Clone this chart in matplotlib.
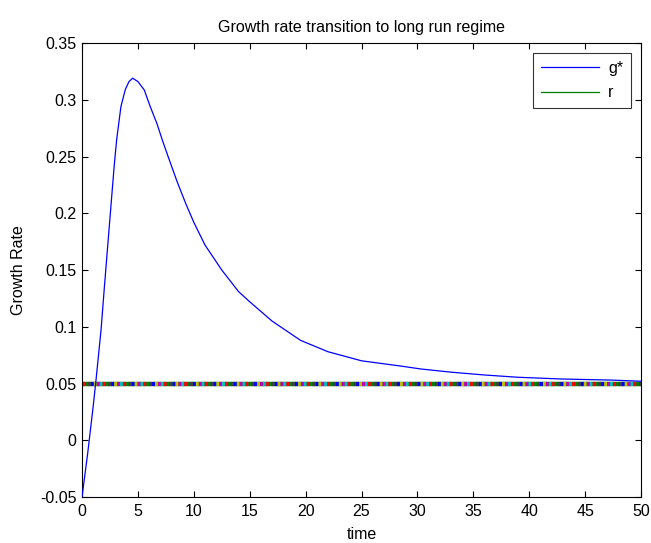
import matplotlib
matplotlib.use("Agg")
import matplotlib.pyplot as plt

plt.rcParams['font.family'] = ['Liberation Sans', 'DejaVu Sans']

# Transition path of the growth rate g* towards the long-run rate r
time = [0.0, 0.5, 1.0, 1.25, 1.7, 2.0, 2.5, 2.88, 3.1, 3.48, 3.87, 4.2, 4.53,
        5.0, 5.57, 6.1, 6.7, 7.2, 7.7, 8.5, 9.3, 10.0, 11.0, 12.5, 14.0, 15.0,
        17.0, 19.55, 22.0, 25.0, 28.5, 30.3, 33.0, 36.0, 39.0, 42.8, 47.4, 50.0]
g_star = [-0.05, -0.012, 0.030, 0.053, 0.097, 0.135, 0.196, 0.242, 0.265, 0.294,
          0.309, 0.316, 0.319, 0.316, 0.3086, 0.294, 0.279, 0.264, 0.25, 0.228,
          0.208, 0.192, 0.172, 0.150, 0.131, 0.122, 0.105, 0.088, 0.078, 0.070,
          0.0654, 0.0628, 0.060, 0.0575, 0.0555, 0.054, 0.053, 0.052]
r_rate = [0.05] * len(time)

x_ticks = [0, 5, 10, 15, 20, 25, 30, 35, 40, 45, 50]
y_ticks = [-0.05, 0, 0.05, 0.1, 0.15, 0.2, 0.25, 0.3, 0.35]
y_tick_labels = ['-0.05', '0', '0.05', '0.1', '0.15', '0.2', '0.25', '0.3', '0.35']

fig = plt.figure(figsize=(6.51, 5.43), dpi=100)
ax = fig.add_axes([0.126, 0.0847, 0.8586, 0.8361])

ax.plot(time, g_star, color='#0000ff', lw=0.9, label='g*', zorder=3)
ax.plot(time, r_rate, color='#008000', lw=3.2, label='r', zorder=2)
# overlapping constant series drawn as a speckled multi-colour band
band_colors = ['#ff0000', '#00bfbf', '#bf00bf', '#bfbf00', '#0000ff', '#404040']
for i, c in enumerate(band_colors):
    ax.plot(time, r_rate, color=c, lw=3.0, linestyle=(i * 0.7, (0.7, 4.2)),
            zorder=2)

ax.set_xlim(0, 50)
ax.set_ylim(-0.05, 0.35)
ax.set_xticks(x_ticks)
ax.set_yticks(y_ticks)
ax.set_yticklabels(y_tick_labels)
ax.tick_params(direction='in', length=4.5, width=0.8, top=True, right=True,
               labelsize=11.5)
ax.tick_params(axis='x', pad=5)
ax.tick_params(axis='y', pad=4)
for s in ax.spines.values():
    s.set_linewidth(0.8)

ax.set_title('Growth rate transition to long run regime', fontsize=11.5, pad=8)
ax.set_xlabel('time', fontsize=11.5, labelpad=6)
ax.set_ylabel('Growth Rate', fontsize=11.5, labelpad=10)

handles, labels = ax.get_legend_handles_labels()
leg = ax.legend(handles[:2], ['g*', 'r'], loc='upper right', fontsize=11.5,
                frameon=True, fancybox=False, edgecolor='black',
                borderaxespad=0.6, handlelength=3.6, labelspacing=0.6,
                handletextpad=0.6, borderpad=0.5)
leg.get_frame().set_linewidth(0.8)
for h in leg.get_lines():
    h.set_linewidth(0.9)

fig.savefig('out.png', dpi=100)
